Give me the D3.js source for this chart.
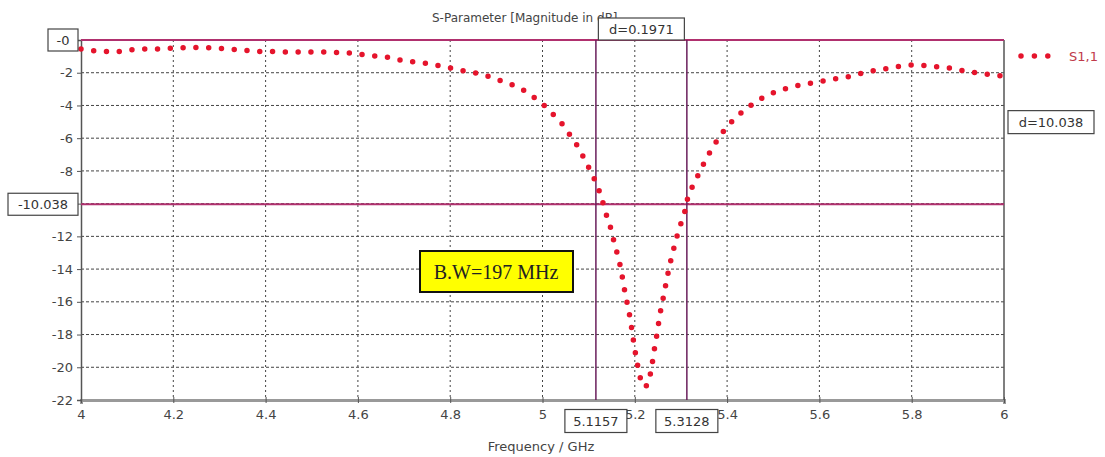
<html>

<head>
  <meta charset="utf-8">
  <title>S-Parameter</title>
  <script type="text/javascript" src="https://cdn.jsdelivr.net/npm/d3@7"></script>
  <style>
    body { margin: 0; background: #fff; }
    text { font-family: "DejaVu Sans", sans-serif; }
  </style>
</head>

<body>
  <script type="text/javascript">
    const w = 1105;
    const h = 457;

    // Data: frequency (GHz) and S1,1 (dB)
    const freq = [4.0, 4.026, 4.056, 4.082, 4.11, 4.137, 4.165, 4.193, 4.219, 4.251, 4.277, 4.303, 4.332, 4.358,
      4.386, 4.414, 4.442, 4.48, 4.522, 4.555, 4.583, 4.611, 4.637, 4.665, 4.691, 4.717, 4.745, 4.771, 4.797,
      4.823, 4.849, 4.875, 4.899, 4.923, 4.947, 4.969, 4.989, 5.009, 5.028, 5.047, 5.062, 5.078, 5.09, 5.103,
      5.115, 5.125, 5.133, 5.141, 5.15, 5.156, 5.164, 5.17, 5.175, 5.18, 5.186, 5.191, 5.195, 5.199, 5.204,
      5.209, 5.216, 5.223, 5.231, 5.235, 5.24, 5.244, 5.249, 5.253, 5.258, 5.264, 5.269, 5.275, 5.281, 5.289,
      5.295, 5.307, 5.311, 5.32, 5.332, 5.345, 5.358, 5.372, 5.386, 5.403, 5.422, 5.442, 5.464, 5.487, 5.51,
      5.535, 5.559, 5.587, 5.612, 5.637, 5.663, 5.688, 5.713, 5.74, 5.767, 5.796, 5.824, 5.85, 5.878, 5.903,
      5.93, 5.954, 5.979, 6.0];
    const s11 = [-0.55, -0.65, -0.7, -0.7, -0.6, -0.55, -0.55, -0.5, -0.47, -0.46, -0.47, -0.52, -0.58, -0.64,
      -0.7, -0.7, -0.73, -0.73, -0.73, -0.76, -0.8, -0.9, -0.98, -1.06, -1.22, -1.33, -1.42, -1.55, -1.69,
      -1.85, -1.97, -2.14, -2.38, -2.61, -2.89, -3.22, -3.67, -4.11, -4.69, -5.26, -5.91, -6.56, -7.23, -7.95,
      -8.66, -9.37, -10.15, -10.94, -11.67, -12.49, -13.24, -14.0, -14.83, -15.63, -16.4, -17.18, -17.97, -18.75, -19.56,
      -20.33, -21.1, -21.2, -20.92, -20.17, -19.4, -18.58, -17.83, -17.0, -16.24, -15.45, -14.63, -13.86, -13.08, -12.29,
      -11.55, -10.74, -9.98, -9.23, -8.56, -7.8, -7.09, -6.42, -5.8, -5.2, -4.65, -4.18, -3.73, -3.38, -3.12,
      -2.91, -2.75, -2.61, -2.49, -2.36, -2.24, -2.06, -1.9, -1.77, -1.63, -1.53, -1.55, -1.63, -1.69, -1.83,
      -1.96, -2.06, -2.16, -2.2];

    const xTicks = [4, 4.2, 4.4, 4.6, 4.8, 5, 5.2, 5.4, 5.6, 5.8, 6];
    const yTicks = [-2, -4, -6, -8, -10, -12, -14, -16, -18, -20, -22];

    // Markers
    const markerFreqs = [5.1157, 5.3128];
    const markerLevels = [0, -10.038];

    const xScale = d3.scaleLinear().domain([4, 6]).range([81, 1004]);
    const yScale = d3.scaleLinear().domain([-22, 0]).range([400, 40]);

    const svg = d3.select("body")
      .append("svg")
      .attr("width", w)
      .attr("height", h);

    // Grid
    svg.append("g").selectAll("line")
      .data(xTicks.slice(1, -1))
      .enter().append("line")
      .attr("x1", d => xScale(d)).attr("x2", d => xScale(d))
      .attr("y1", yScale(0)).attr("y2", yScale(-22))
      .attr("stroke", "#444").attr("stroke-width", 1)
      .attr("stroke-dasharray", "2,3");
    svg.append("g").selectAll("line")
      .data(yTicks.slice(0, -1))
      .enter().append("line")
      .attr("x1", xScale(4)).attr("x2", xScale(6))
      .attr("y1", d => yScale(d)).attr("y2", d => yScale(d))
      .attr("stroke", "#444").attr("stroke-width", 1)
      .attr("stroke-dasharray", "3,2");

    // Akser
    const xAxis = d3.axisBottom(xScale).tickValues(xTicks).tickSize(4).tickFormat(d => String(d));
    const gx = svg.append("g")
      .attr("transform", "translate(0," + yScale(-22) + ")")
      .call(xAxis);
    gx.select(".domain").attr("stroke", "#999").attr("stroke-width", 3);
    gx.selectAll(".tick line").attr("stroke", "#555").attr("y1", -3).attr("y2", 3);
    gx.selectAll("text").attr("font-size", 13).attr("fill", "#444").attr("y", 10);

    // -10 label is hidden behind the marker box, as in the original
    const yAxis = d3.axisLeft(yScale).tickValues(yTicks).tickSize(4)
      .tickFormat(d => d === -10 ? "" : String(d));
    const gy = svg.append("g")
      .attr("transform", "translate(" + xScale(4) + ",0)")
      .call(yAxis);
    gy.select(".domain").attr("stroke", "#555").attr("stroke-width", 1.5);
    gy.selectAll(".tick line").attr("stroke", "#555");
    gy.selectAll("text").attr("font-size", 13).attr("fill", "#444").attr("x", -8);

    // Right border
    svg.append("line")
      .attr("x1", xScale(6)).attr("x2", xScale(6))
      .attr("y1", yScale(0)).attr("y2", yScale(-22))
      .attr("stroke", "#555").attr("stroke-width", 1.5);

    // Marker lines
    svg.append("g").selectAll("line")
      .data(markerLevels)
      .enter().append("line")
      .attr("x1", xScale(4)).attr("x2", xScale(6))
      .attr("y1", d => yScale(d)).attr("y2", d => yScale(d))
      .attr("stroke", "#b0306e").attr("stroke-width", 2);
    svg.append("g").selectAll("line")
      .data(markerFreqs)
      .enter().append("line")
      .attr("x1", d => xScale(d)).attr("x2", d => xScale(d))
      .attr("y1", yScale(0)).attr("y2", yScale(-22))
      .attr("stroke", "#6a1f5c").attr("stroke-width", 1.5);

    // Curve
    const line = d3.line()
      .x((d, i) => xScale(freq[i]))
      .y(d => yScale(d));
    svg.append("path")
      .datum(s11)
      .attr("d", line)
      .attr("fill", "none")
      .attr("stroke", "#e5142c")
      .attr("stroke-width", 5.5)
      .attr("stroke-linecap", "round")
      .attr("stroke-dasharray", "0,12.8");

    // Titles
    svg.append("text")
      .attr("x", 432).attr("y", 22)
      .attr("font-size", 12).attr("fill", "#444")
      .text("S-Parameter [Magnitude in dB]");
    svg.append("text")
      .attr("x", 541).attr("y", 451)
      .attr("text-anchor", "middle")
      .attr("font-size", 13).attr("fill", "#444")
      .text("Frequency / GHz");

    // Boxed labels
    function box(cx, cy, bw, bh, label) {
      const g = svg.append("g");
      g.append("rect")
        .attr("x", cx - bw / 2).attr("y", cy - bh / 2)
        .attr("width", bw).attr("height", bh)
        .attr("fill", "#fff").attr("stroke", "#444").attr("stroke-width", 1.2);
      g.append("text")
        .attr("x", cx).attr("y", cy)
        .attr("dy", "0.35em")
        .attr("text-anchor", "middle")
        .attr("font-size", 13).attr("fill", "#333")
        .text(label);
    }
    box(63, yScale(markerLevels[0]), 30, 22, "-0");
    box(43, yScale(markerLevels[1]), 70, 22, "-10.038");
    box(xScale(markerFreqs[0]), 421, 62, 23, "5.1157");
    box(xScale(markerFreqs[1]), 421, 62, 23, "5.3128");
    box((xScale(markerFreqs[0]) + xScale(markerFreqs[1])) / 2, 29, 86, 22, "d=" + d3.format(".4f")(markerFreqs[1] - markerFreqs[0]));
    box(1051, (yScale(markerLevels[0]) + yScale(markerLevels[1])) / 2, 86, 23, "d=" + d3.format(".3f")(markerLevels[0] - markerLevels[1]));

    // Legend
    svg.append("line")
      .attr("x1", 1021).attr("x2", 1048)
      .attr("y1", 56).attr("y2", 56)
      .attr("stroke", "#e5142c").attr("stroke-width", 5.5)
      .attr("stroke-linecap", "round")
      .attr("stroke-dasharray", "0,13.4");
    svg.append("text")
      .attr("x", 1069).attr("y", 56).attr("dy", "0.35em")
      .attr("font-size", 13).attr("fill", "#c03a4a")
      .text("S1,1");

    // Bandwidth note
    svg.append("rect")
      .attr("x", 420).attr("y", 251)
      .attr("width", 153).attr("height", 41)
      .attr("fill", "#ffff00").attr("stroke", "#111").attr("stroke-width", 2);
    svg.append("text")
      .attr("x", 496).attr("y", 272).attr("dy", "0.35em")
      .attr("text-anchor", "middle")
      .style("font-family", "'Liberation Serif', serif")
      .attr("font-size", 20).attr("fill", "#222")
      .text("B.W=197 MHz");
  </script>
</body>

</html>
